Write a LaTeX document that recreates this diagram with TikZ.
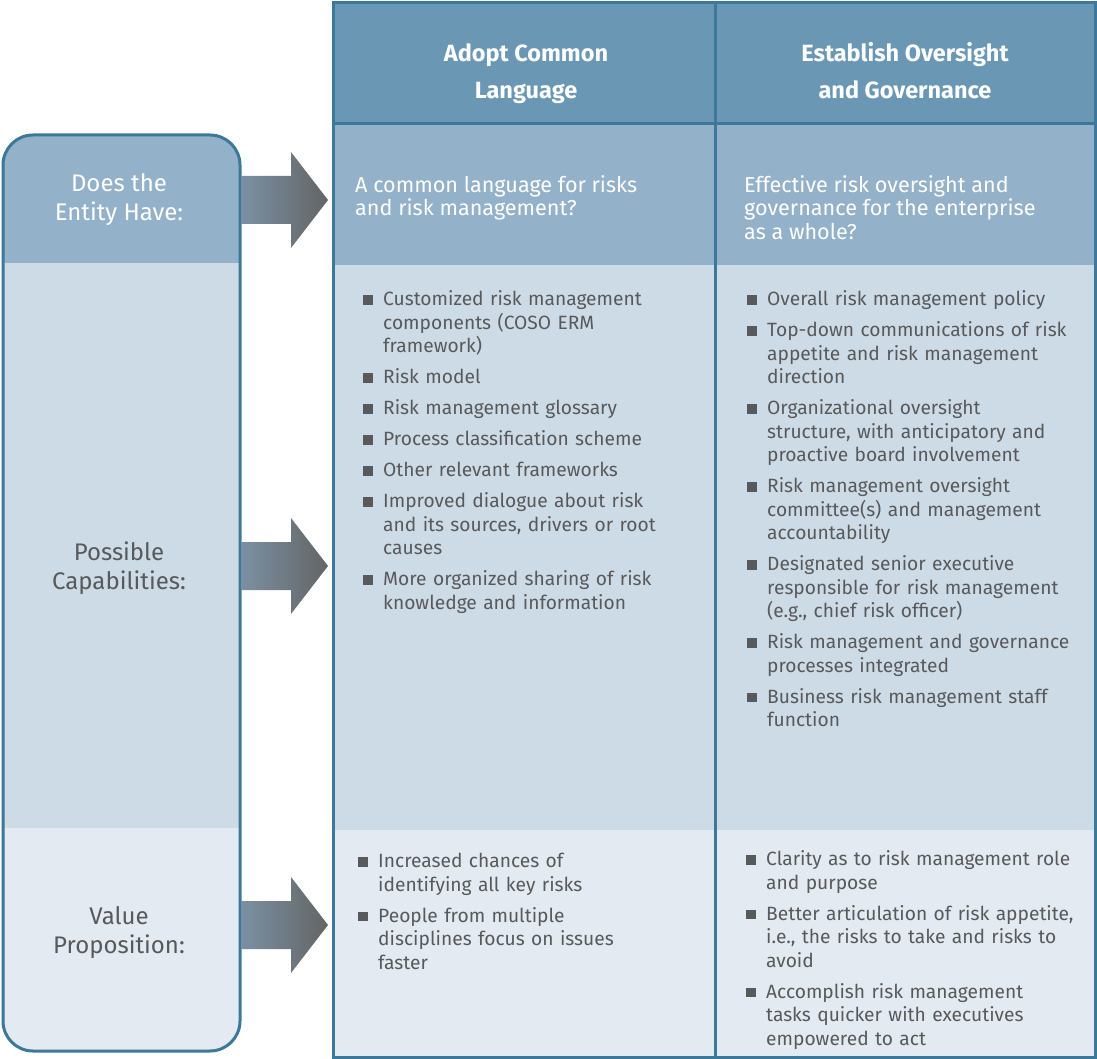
\documentclass[tikz,border=0pt]{standalone}
\usepackage{fontspec}
\setmainfont{Fira Sans}
\definecolor{hdr}{HTML}{6A98B4}
\definecolor{rowA}{HTML}{93B1C8}
\definecolor{rowB}{HTML}{CDDBE6}
\definecolor{rowC}{HTML}{E3EAF1}
\definecolor{bord}{HTML}{3C7899}
\definecolor{txt}{HTML}{58595B}
\definecolor{arrL}{HTML}{7A91A3}
\definecolor{arrR}{HTML}{646464}
\newcommand\bitem[1]{\par\noindent\makebox[20pt][l]{\textcolor{txt}{\rule[1pt]{9.5pt}{9.5pt}}}\parbox[t]{320pt}{\raggedright #1\par\xdef\lastdp{\the\prevdepth}}\par\prevdepth=\lastdp\relax\vspace{7.5pt}}
\newcommand\bigarrow[1]{%
  \shade[left color=arrL,right color=arrR] (241,#1-24) -- (291,#1-24) -- (291,#1-48) -- (328,#1) -- (291,#1+48) -- (291,#1+24) -- (241,#1+24) -- cycle;}
\begin{document}
\begin{tikzpicture}[x=1pt,y=-1pt,
  hdrtext/.style={align=center,text=white,font=\fontsize{23.5}{37}\selectfont\bfseries,inner sep=0},
  lbl/.style={align=center,font=\fontsize{24}{29}\selectfont,inner sep=0},
  celltext/.style={anchor=north west,align=left,text width=#1,font=\fontsize{19.2}{23.5}\selectfont,inner sep=0},
  celltext/.default=345,
  qtext/.style={anchor=north west,align=left,text=white,font=\fontsize{21.6}{23.5}\selectfont,inner sep=0},
  frame/.style={draw=bord,line width=3pt}]
\useasboundingbox (0,0) rectangle (1097,1059);
% table
\fill[hdr] (333,3) rectangle (1095,124);
\fill[rowA] (333,124) rectangle (1095,265);
\fill[rowB] (333,265) rectangle (1095,830);
\fill[rowC] (333,830) rectangle (1095,1057);
\draw[frame] (333,124) -- (1095,124);
\draw[frame] (715,3) -- (715,1057);
\draw[frame] (333,3) rectangle (1095,1057);
% left box
\begin{scope}
\clip[rounded corners=30pt] (3,135) rectangle (240,1051);
\fill[rowA] (3,135) rectangle (240,263);
\fill[rowB] (3,263) rectangle (240,828);
\fill[rowC] (3,828) rectangle (240,1051);
\end{scope}
\draw[frame,rounded corners=30pt] (3,135) rectangle (240,1051);
% arrows
\bigarrow{200}
\bigarrow{566}
\bigarrow{925}
% left labels
\node[lbl,text=white] (l1) at (119,200) {Does the\\Entity Have:};
\node[lbl,text=txt] (l2) at (119,568) {Possible\\Capabilities:};
\node[lbl,text=txt] (l3) at (119,933) {Value\\Proposition:};
% headers
\node[hdrtext] (h1) at (526,73) {\strut Adopt Common\\\strut Language};
\node[hdrtext] (h2) at (905,73) {\strut Establish Oversight\\\strut and Governance};
% row 2
\node[qtext] (q1) at (355,175) {A common language for risks\\and risk management?};
\node[qtext] (q2) at (744,175) {Effective risk oversight and\\governance for the enterprise\\as a whole?};
% row 3
\node[celltext,text=txt] (c1) at (363,282) {%
\bitem{Customized risk management\\components (COSO ERM\\framework)}
\bitem{Risk model}
\bitem{Risk management glossary}
\bitem{Process classification scheme}
\bitem{Other relevant frameworks}
\bitem{Improved dialogue about risk\\and its sources, drivers or root\\causes}
\bitem{More organized sharing of risk\\knowledge and information}};
\node[celltext,text=txt] (c2) at (747,282) {%
\bitem{Overall risk management policy}
\bitem{Top-down communications of risk\\appetite and risk management\\direction}
\bitem{Organizational oversight\\structure, with anticipatory and\\proactive board involvement}
\bitem{Risk management oversight\\committee(s) and management\\accountability}
\bitem{Designated senior executive\\responsible for risk management\\(e.g., chief risk officer)}
\bitem{Risk management and governance\\processes integrated}
\bitem{Business risk management staff\\function}};
% row 4
\node[celltext,text=txt] (v1) at (358,844) {%
\bitem{Increased chances of\\identifying all key risks}
\bitem{People from multiple\\disciplines focus on issues\\faster}};
\node[celltext,text=txt] (v2) at (746,842) {%
\bitem{Clarity as to risk management role\\and purpose}
\bitem{Better articulation of risk appetite,\\i.e., the risks to take and risks to\\avoid}
\bitem{Accomplish risk management\\tasks quicker with executives\\empowered to act}};
\end{tikzpicture}
\end{document}
